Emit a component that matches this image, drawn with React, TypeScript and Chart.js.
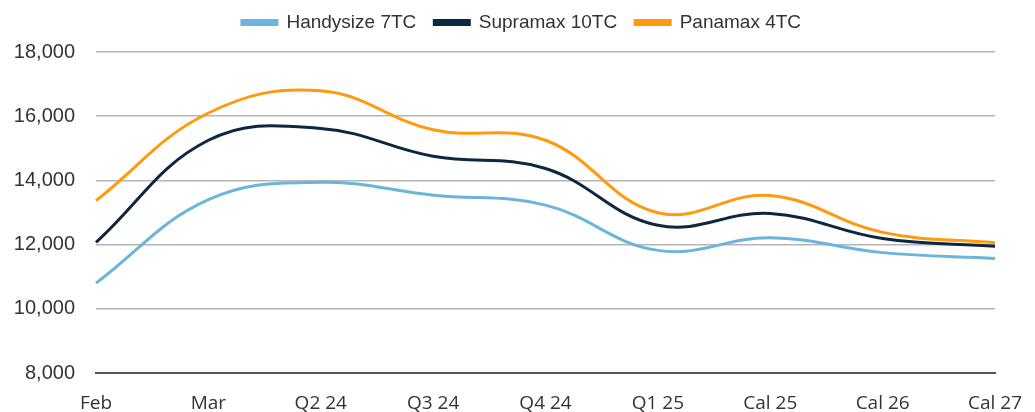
import React, { useEffect, useRef } from "react";
import { Chart, registerables } from "chart.js";

Chart.register(...registerables);

const categories = ["Feb", "Mar", "Q2 24", "Q3 24", "Q4 24", "Q1 25", "Cal 25", "Cal 26", "Cal 27"];
const handysize = [10800, 13400, 13940, 13540, 13230, 11820, 12210, 11750, 11570];
const supramax = [12070, 15250, 15620, 14750, 14370, 12600, 12970, 12190, 11950];
const panamax = [13370, 16100, 16790, 15580, 15250, 12990, 13530, 12380, 12060];
const yTicks = [8000, 10000, 12000, 14000, 16000, 18000];

const legendSpacer = {
  id: "legendSpacer",
  beforeInit(chart: any) {
    const lg = chart.legend;
    if (!lg) return;
    const origFit = lg.fit;
    lg.fit = function () {
      origFit.call(this);
      this.height += 10;
    };
    const origDraw = lg.draw;
    lg.draw = function () {
      const ctx = this.ctx;
      ctx.save();
      ctx.translate(24, 0);
      origDraw.call(this);
      ctx.restore();
    };
  },
};

export default function App() {
  const ref = useRef<HTMLCanvasElement | null>(null);
  useEffect(() => {
    if (!ref.current) return;
    const chart = new Chart(ref.current, {
      type: "line",
      data: {
        labels: categories,
        datasets: [
          { label: "Handysize 7TC", data: handysize, borderColor: "#6CB4DB", backgroundColor: "#6CB4DB", borderWidth: 3, pointRadius: 0, tension: 0.4 },
          { label: "Supramax 10TC", data: supramax, borderColor: "#0D2740", backgroundColor: "#0D2740", borderWidth: 3, pointRadius: 0, tension: 0.4 },
          { label: "Panamax 4TC", data: panamax, borderColor: "#FF9A0D", backgroundColor: "#FF9A0D", borderWidth: 3, pointRadius: 0, tension: 0.4 },
        ],
      },
      plugins: [legendSpacer],
      options: {
        animation: false,
        responsive: true,
        maintainAspectRatio: false,
        layout: { padding: { left: 0, right: 40, top: -5, bottom: 0 } },
        plugins: {
          tooltip: { enabled: false },
          legend: {
            position: "top",
            align: "center",
            labels: {
              boxWidth: 35,
              boxHeight: 4,
              padding: 18,
              color: "#333",
              font: { family: "'Liberation Sans', Arial, sans-serif", size: 19 },
            },
          },
        },
        scales: {
          x: {
            offset: false,
            grid: { display: false, drawTicks: false },
            border: { display: true, color: "#555", width: 2 },
            ticks: {
              autoSkip: false,
              maxRotation: 0,
              padding: 19,
              color: "#333",
              font: { family: "'Open Sans', sans-serif", size: 19 },
            },
            afterFit: (s: any) => {
              s.height = 39;
              s.paddingLeft = 0;
              s.paddingRight = 0;
            },
          },
          y: {
            min: 8000,
            max: 18000,
            afterBuildTicks: (s: any) => { s.ticks = yTicks.map((v) => ({ value: v })); },
            grid: { color: "#b5b5b5", lineWidth: 1.5, drawTicks: false },
            border: { display: false },
            ticks: {
              padding: 21,
              color: "#333",
              font: { family: "'Liberation Sans', Arial, sans-serif", size: 20 },
              callback: (v: any) => Number(v).toLocaleString("en-US"),
            },
            afterFit: (s: any) => {
              s.width = 96;
              s.paddingTop = 0;
              s.paddingBottom = 0;
            },
          },
        },
      },
    });
    return () => chart.destroy();
  }, []);
  return (
    <div style={{ position: "fixed", left: 0, top: 0, width: 1035, height: 412, background: "#fff" }}>
      <canvas ref={ref} />
    </div>
  );
}
